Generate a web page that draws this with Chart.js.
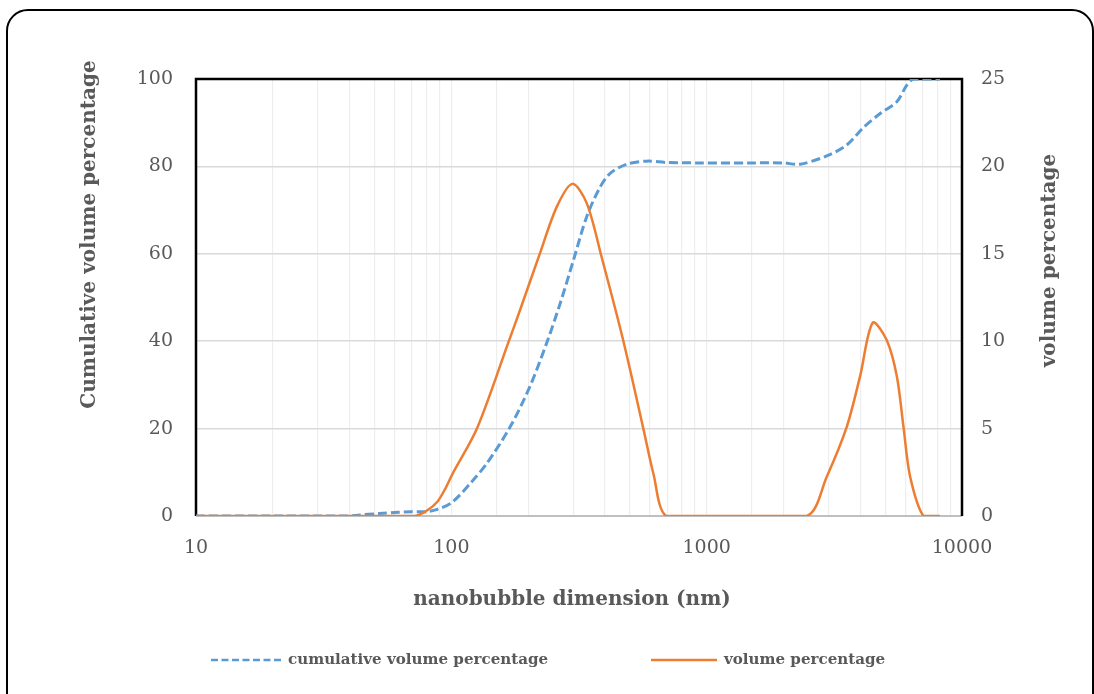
<!DOCTYPE html>
<html><head><meta charset="utf-8">
<script src="https://cdn.jsdelivr.net/npm/chart.js@4.4.0/dist/chart.umd.min.js"></script>
<style>
html,body{margin:0;padding:0;background:#fff;width:1094px;height:694px;overflow:hidden;}
#frame{position:absolute;left:6px;top:9px;width:1088px;height:720px;border:2px solid #000;border-radius:22px;box-sizing:border-box;}
#wrap{position:absolute;left:0;top:0;width:1094px;height:694px;}
</style></head><body>
<div id="frame"></div>
<div id="wrap"><canvas id="c" width="1094" height="694"></canvas></div>
<script>
// ---- data ----
const cumSize   = [10, 20, 30, 40, 43, 52, 62, 70, 80, 88, 101, 120, 138, 170, 203, 236, 267, 301, 339, 382, 419, 486, 583, 698, 943, 1479, 1992, 2322, 2953, 3537, 4110, 4780, 5556, 6080, 6460, 8200];
const cumValues = [0, 0, 0, 0, 0.2, 0.55, 0.85, 1.0, 1.0, 1.5, 3.2, 7.8, 12.1, 20.4, 29.6, 39.5, 48.7, 58.6, 68.5, 75.2, 78.4, 80.5, 81.2, 80.9, 80.8, 80.8, 80.8, 80.5, 82.4, 84.9, 88.9, 92.1, 94.8, 98.6, 100, 100];
const volSize   = [10, 20, 40, 72, 80, 88, 95, 101, 126, 167, 186, 222, 259, 298, 339, 388, 472, 565, 619, 693, 1000, 2466, 2953, 3537, 3990, 4470, 5070, 5556, 5900, 6265, 7064, 8200];
const volValues = [0, 0, 0, 0, 0.3, 0.8, 1.6, 2.4, 5.0, 9.9, 11.8, 15.0, 17.7, 19.0, 17.9, 14.8, 10.0, 5.0, 2.4, 0, 0, 0, 2.25, 5.1, 8.0, 11.06, 10.07, 8.0, 5.1, 2.25, 0, 0];
const xTickLabels = ['10', '100', '1000', '10000'];
const leftTicks  = [0, 20, 40, 60, 80, 100];
const rightTicks = [0, 5, 10, 15, 20, 25];
const seriesNames = ['cumulative volume percentage', 'volume percentage'];
const axisTitles = ['nanobubble dimension (nm)', 'Cumulative volume percentage', 'volume percentage'];

const FONT = "'DejaVu Serif', 'Liberation Serif', serif";
const GREY = '#595959';
const BLUE = '#5B9BD5';
const ORANGE = '#ED7D31';

const framePlugin = {
  id: 'frame',
  afterLayout(chart) {
    const shifts = {x: [-7, 0], y: [0, -63]};
    Object.keys(shifts).forEach(id => {
      const s = chart.scales[id];
      if (!s || s._titleWrapped) return;
      const orig = s.drawTitle;
      s.drawTitle = function () {
        const [dx, dy] = shifts[id];
        const t = this.top, b = this.bottom, l = this.left, r = this.right;
        this.top += dy; this.bottom += dy; this.left += dx; this.right += dx;
        orig.call(this);
        this.top = t; this.bottom = b; this.left = l; this.right = r;
      };
      s._titleWrapped = true;
    });
    const r = chart.scales.y1;
    if (r && !r._titleWrapped) {
      r.drawTitle = function () {
        const o = this.options.title;
        const f = Chart.helpers.toFont(o.font);
        const c = this.ctx;
        const cx = this.right - o.padding.top - f.lineHeight / 2;
        const cy = (this.top + this.bottom) / 2 - 37;
        c.save();
        c.translate(cx, cy);
        c.rotate(-Math.PI / 2);
        c.font = f.string;
        c.fillStyle = o.color;
        c.textAlign = 'center';
        c.textBaseline = 'middle';
        c.fillText(o.text, 0, 0);
        c.restore();
      };
      r._titleWrapped = true;
    }
  },
  beforeDatasetsDraw(chart) {
    const {ctx, chartArea: a} = chart;
    ctx.save();
    ctx.strokeStyle = '#000';
    ctx.lineWidth = 2.5;
    ctx.beginPath();
    ctx.moveTo(a.left, a.bottom);
    ctx.lineTo(a.left, a.top);
    ctx.lineTo(a.right, a.top);
    ctx.lineTo(a.right, a.bottom);
    ctx.stroke();
    ctx.restore();
  },
  afterDraw(chart) {
    const {ctx} = chart;
    const ds = chart.data.datasets;
    const items = [
      {x0: 211, x1: 283, tx: 288, d: ds[0], dash: [7, 3.5]},
      {x0: 651, x1: 717, tx: 724, d: ds[1], dash: []}
    ];
    const y = 660;
    ctx.save();
    items.forEach(it => {
      ctx.strokeStyle = it.d.borderColor;
      ctx.lineWidth = 2.5;
      ctx.setLineDash(it.dash);
      ctx.beginPath();
      ctx.moveTo(it.x0, y);
      ctx.lineTo(it.x1, y);
      ctx.stroke();
      ctx.setLineDash([]);
      ctx.fillStyle = GREY;
      ctx.font = "bold 15.1px " + FONT;
      ctx.textBaseline = 'middle';
      ctx.textAlign = 'left';
      ctx.fillText(it.d.label, it.tx, y);
    });
    ctx.restore();
  }
};

const isPow10 = v => Math.abs(Math.log10(v) - Math.round(Math.log10(v))) < 1e-9;

new Chart(document.getElementById('c'), {
  type: 'line',
  data: {
    datasets: [
      {
        label: seriesNames[0],
        data: cumSize.map((s, i) => ({x: s, y: cumValues[i]})),
        yAxisID: 'y',
        borderColor: BLUE,
        backgroundColor: BLUE,
        borderWidth: 3,
        borderDash: [9, 4],
        pointRadius: 0,
        tension: 0.3,
        fill: false,
        order: 1
      },
      {
        label: seriesNames[1],
        data: volSize.map((s, i) => ({x: s, y: volValues[i]})),
        yAxisID: 'y1',
        borderColor: ORANGE,
        backgroundColor: ORANGE,
        borderWidth: 2.5,
        pointRadius: 0,
        tension: 0.3,
        fill: false,
        order: 0
      }
    ]
  },
  options: {
    responsive: false,
    animation: false,
    devicePixelRatio: 1,
    layout: {padding: {top: 79, left: 0, right: 0, bottom: 0}},
    plugins: {
      legend: {display: false},
      tooltip: {enabled: false}
    },
    scales: {
      x: {
        type: 'logarithmic',
        position: 'bottom',
        min: 10,
        max: 10000,
        afterFit: s => { s.height = 178; },
        border: {display: false},
        grid: {color: '#eeeeee', lineWidth: 1.2, drawTicks: false},
        ticks: {
          autoSkip: false,
          maxRotation: 0,
          minRotation: 0,
          padding: 21,
          color: GREY,
          font: {family: FONT, size: 19},
          callback: v => isPow10(v) ? xTickLabels[Math.round(Math.log10(v)) - 1] : ''
        },
        title: {display: true, text: axisTitles[0], color: GREY, font: {family: FONT, size: 20, weight: 'bold'}, padding: {top: 0, bottom: 82}}
      },
      y: {
        position: 'left',
        min: 0,
        max: 100,
        afterFit: s => { s.width = 196; },
        afterBuildTicks: s => { s.ticks = leftTicks.map(v => ({value: v})); },
        border: {display: false},
        grid: {color: c => c.tick && c.tick.value === 0 ? '#bfbfbf' : '#d9d9d9', lineWidth: c => c.tick && c.tick.value === 0 ? 2 : 1.5, drawTicks: false},
        ticks: {padding: 23, color: GREY, font: {family: FONT, size: 19}},
        title: {display: true, text: axisTitles[1], color: GREY, font: {family: FONT, size: 20, weight: 'bold'}, padding: {top: 78, bottom: 0}}
      },
      y1: {
        position: 'right',
        min: 0,
        max: 25,
        afterFit: s => { s.width = 132; },
        afterBuildTicks: s => { s.ticks = rightTicks.map(v => ({value: v})); },
        border: {display: false},
        grid: {drawOnChartArea: false, drawTicks: false},
        ticks: {padding: 19, color: GREY, font: {family: FONT, size: 19}},
        title: {display: true, text: axisTitles[2], color: GREY, font: {family: FONT, size: 20, weight: 'bold'}, padding: {top: 32, bottom: 0}}
      }
    }
  },
  plugins: [framePlugin]
});
</script>
</body></html>
